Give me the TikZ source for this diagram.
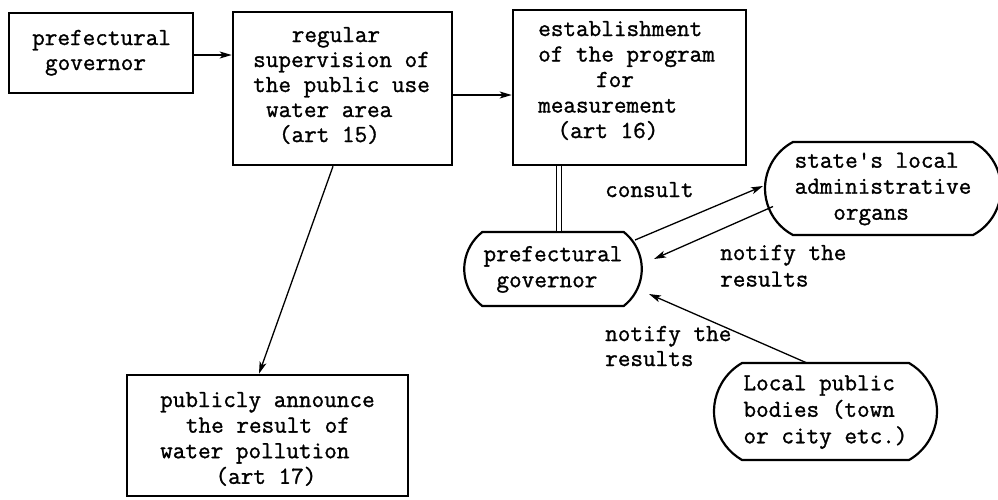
\documentclass[tikz,border=0pt]{standalone}
\usepackage{fontspec}
\setmonofont{Latin Modern Mono}[FakeBold=1.2]
\usetikzlibrary{arrows.meta,shapes.misc,calc}
\newcommand\indt[1]{\hspace*{#1\dimexpr0.525em\relax}}
\begin{document}
\begin{tikzpicture}[x=1pt,y=-1pt,
  box/.style={draw, line width=2.6pt, rectangle, inner sep=0pt},
  rnd/.style={draw, line width=2.2pt, rounded rectangle, inner ysep=0pt},
  txt/.style={inner sep=0pt, anchor=base west},
  arr/.style={line width=1.3pt, -{Stealth[length=12pt,width=7pt,inset=3pt]}},
]
\useasboundingbox (0,0) rectangle (998,499);

% rectangular boxes
\node[box, minimum width=184pt, minimum height=80pt] (A) at (101,53) {};
\node[box, minimum width=219pt, minimum height=153pt] (B) at (342.5,88.5) {};
\node[box, minimum width=233pt, minimum height=155pt] (C) at (629.5,87.5) {};
\node[box, minimum width=281pt, minimum height=121pt] (G) at (267.5,435.5) {};

% box texts
\node[txt, font=\fontsize{24.5}{25}\ttfamily] (At) at (32,45)
  {\begin{tabular}[t]{@{}l@{}}prefectural\\\indt{1}governor\end{tabular}};
\node[txt, font=\fontsize{24.5}{25}\ttfamily] (Bt) at (253,42)
  {\begin{tabular}[t]{@{}l@{}}\indt{3}regular\\supervision of\\the public use\\\indt{1}water area\\\indt{2}(art 15)\end{tabular}};
\node[txt, font=\fontsize{24.5}{25.5}\ttfamily] (Ct) at (538,36)
  {\begin{tabular}[t]{@{}l@{}}establishment\\of the program\\\indt{4.5}for\\measurement\\\indt{1.5}(art 16)\end{tabular}};
\node[txt, font=\fontsize{24.5}{25.6}\ttfamily] (Gt) at (160,407)
  {\begin{tabular}[t]{@{}l@{}}publicly announce\\\indt{2}the result of\\water pollution\\\indt{4.3}(art 17)\end{tabular}};

% rounded nodes
\node[rnd, font=\fontsize{24.5}{26}\ttfamily, minimum width=170pt, minimum height=74pt,
      rounded rectangle arc length=104, inner xsep=-3.75pt] (D) at (553,269)
  {\begin{tabular}{@{}l@{}}prefectural\\\indt{1}governor\end{tabular}};
\node[rnd, font=\fontsize{24.5}{26}\ttfamily, minimum width=225pt, minimum height=93pt,
      rounded rectangle arc length=124, inner xsep=-5.5pt] (E) at (883,188.5)
  {\begin{tabular}{@{}l@{}}state's local\\administrative\\\indt{3}organs\end{tabular}};
\node[rnd, font=\fontsize{24.5}{26.5}\ttfamily, minimum width=217pt, minimum height=97pt,
      rounded rectangle arc length=120, inner xsep=-3pt] (F) at (825.5,411.5)
  {\begin{tabular}{@{}l@{}}Local public\\bodies (town\\or city etc.)\end{tabular}};

% connector labels
\node[txt, font=\fontsize{24.5}{25}\ttfamily] (lc) at (605,197) {consult};
\node[txt, font=\fontsize{24.5}{26.5}\ttfamily] (ln1) at (720,260)
  {\begin{tabular}[t]{@{}l@{}}notify the\\results\end{tabular}};
\node[txt, font=\fontsize{24.5}{25}\ttfamily] (ln2) at (605,341)
  {\begin{tabular}[t]{@{}l@{}}notify the\\results\end{tabular}};

% connectors
\draw[arr] ([yshift=-2pt]A.east) -- ([yshift=-2pt]A.east -| B.west);
\draw[arr] ([yshift=-6.5pt]B.east) -- ([yshift=-6.5pt]B.east -| C.west);
\draw[arr] ($(B.south)+(-9.5,0)$) -- ($(G.north)+(-8.5,0)$);
\draw[line width=1pt, double, double distance=4pt] ($(C.south)+(-70.5,0)$) coordinate (c1) -- (c1 |- D.north);
\draw[arr] ($(D.center)+(82,-29)$) -- ($(E.center)+(-120,-2.5)$);
\draw[arr] ($(E.center)+(-110,18)$) -- ($(D.center)+(101,-10)$);
\draw[arr] ($(F.center)+(-18.5,-48.5)$) -- ($(D.center)+(96,25)$);
\end{tikzpicture}
\end{document}
